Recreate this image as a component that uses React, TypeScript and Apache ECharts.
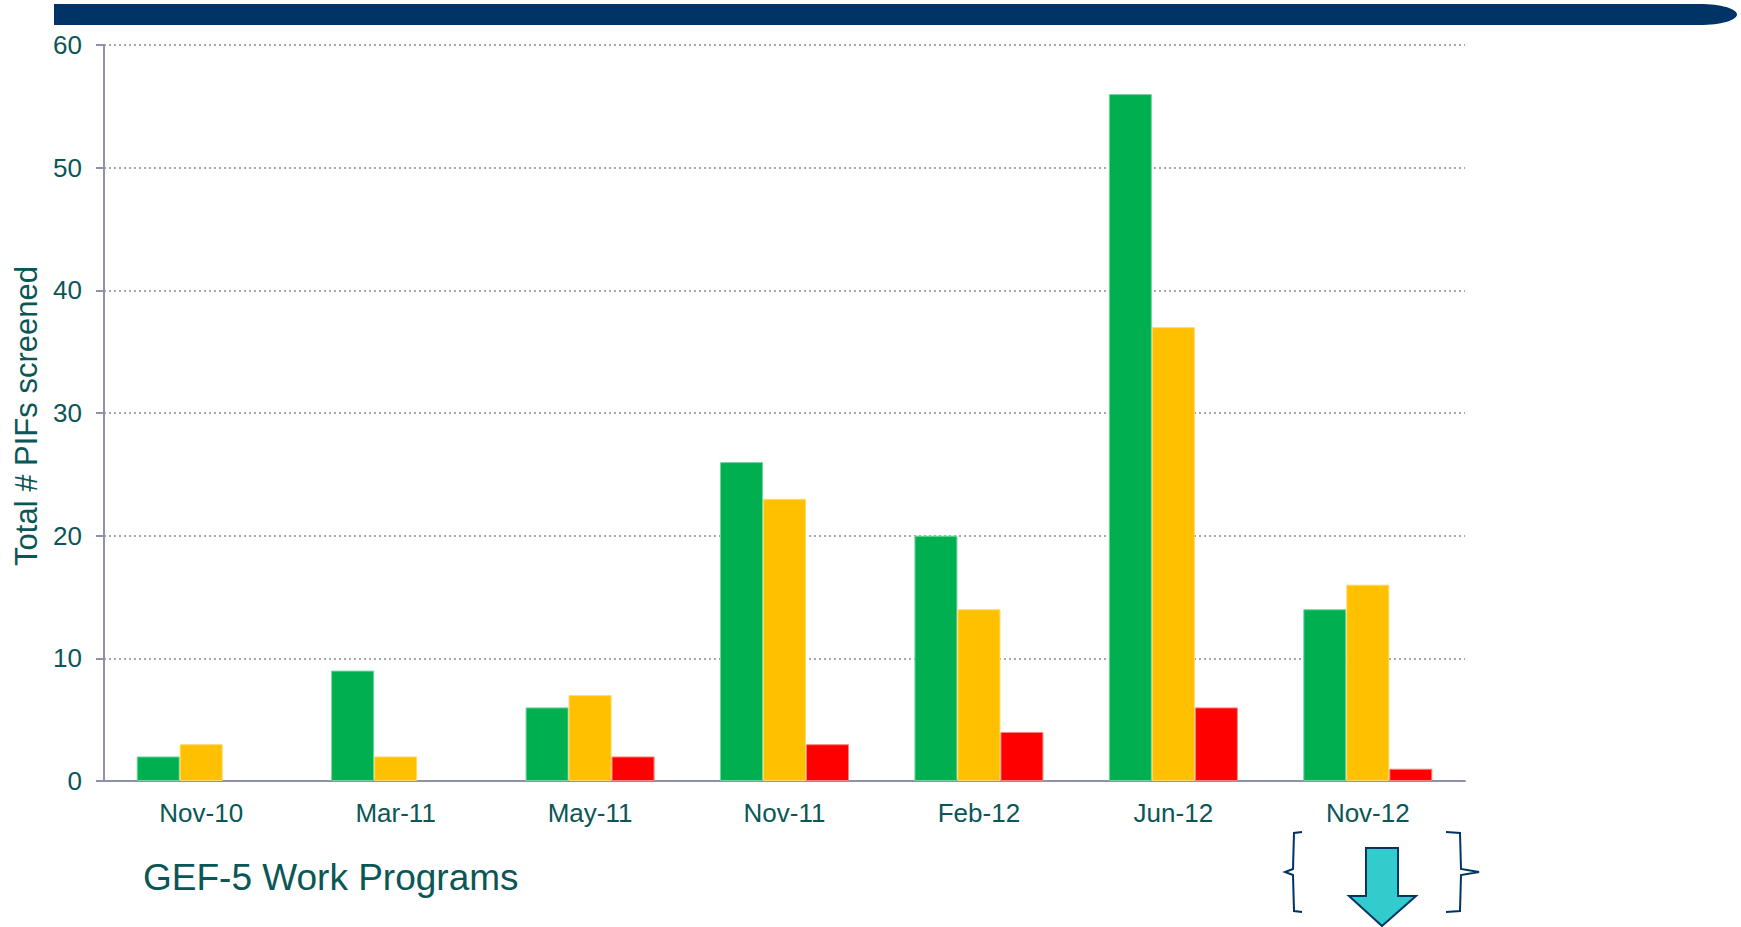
import React, { useEffect, useRef } from "react";
import * as echarts from "echarts";

const categories = ["Nov-10", "Mar-11", "May-11", "Nov-11", "Feb-12", "Jun-12", "Nov-12"];
const greenValues = [2, 9, 6, 26, 20, 56, 14];
const yellowValues = [3, 2, 7, 23, 14, 37, 16];
const redValues = [0, 0, 2, 3, 4, 6, 1];
const yTicks = { min: 0, max: 60, interval: 10 };

const TEXT = "#0b5656";
const AXIS = "#8e92a6";
const FONT = "'Liberation Sans', Arial, sans-serif";

export default function App() {
  const ref = useRef<HTMLDivElement>(null);
  useEffect(() => {
    document.body.style.margin = "0";
    const chart = echarts.init(ref.current!, null, { renderer: "svg" });
    const barBase = {
      type: "bar" as const,
      barWidth: 43,
      barGap: "0%",
    };
    chart.setOption({
      animation: false,
      backgroundColor: "#ffffff",
      textStyle: { fontFamily: FONT },
      grid: { left: 104, right: 276, top: 45, bottom: 146, containLabel: false },
      xAxis: {
        type: "category",
        data: categories,
        axisLine: { show: true, lineStyle: { color: AXIS, width: 2 } },
        axisTick: { show: false },
        axisLabel: { color: TEXT, fontSize: 26, fontFamily: FONT, margin: 19 },
        splitLine: { show: false },
      },
      yAxis: {
        type: "value",
        min: yTicks.min,
        max: yTicks.max,
        interval: yTicks.interval,
        axisLine: { show: true, lineStyle: { color: AXIS, width: 2 } },
        axisTick: { show: true, length: 8, lineStyle: { color: AXIS, width: 2 } },
        axisLabel: { color: TEXT, fontSize: 26, fontFamily: FONT, margin: 22 },
        splitLine: { show: true, lineStyle: { color: "#8a8a8a", width: 1.5, type: [2, 3] } },
      },
      series: [
        { ...barBase, name: "Green", data: greenValues, itemStyle: { color: "#00b050", borderColor: "#6fd69c", borderWidth: 1 } },
        { ...barBase, name: "Yellow", data: yellowValues, itemStyle: { color: "#ffc000", borderColor: "#ffd866", borderWidth: 1 } },
        { ...barBase, name: "Red", data: redValues.map((v) => (v === 0 ? null : v)), itemStyle: { color: "#ff0000", borderColor: "#ff8080", borderWidth: 1 } },
      ],
      graphic: [
        { type: "rect", shape: { x: 54, y: 4, width: 1650, height: 21 }, style: { fill: "#003366" }, silent: true },
        { type: "ellipse", shape: { cx: 1700, cy: 14.5, rx: 37, ry: 10.5 }, style: { fill: "#003366" }, silent: true },
        {
          type: "text",
          x: 26,
          y: 416,
          rotation: Math.PI / 2,
          style: {
            text: "Total # PIFs screened",
            fill: TEXT,
            fontSize: 31,
            fontFamily: FONT,
            textAlign: "center",
            textVerticalAlign: "middle",
          },
        },
        {
          type: "text",
          x: 143,
          y: 877,
          style: {
            text: "GEF-5 Work Programs",
            fill: TEXT,
            fontSize: 37,
            fontFamily: FONT,
            textAlign: "left",
            textVerticalAlign: "middle",
          },
        },
        {
          type: "polyline",
          shape: { points: [[1302, 832], [1294, 833], [1293, 869], [1285, 872], [1293, 875], [1294, 911], [1302, 912]] },
          style: { stroke: "#003366", lineWidth: 2, fill: null },
        },
        {
          type: "polyline",
          shape: { points: [[1446, 832], [1460, 833], [1461, 869], [1479, 872], [1461, 875], [1460, 911], [1446, 912]] },
          style: { stroke: "#003366", lineWidth: 2, fill: null },
        },
        {
          type: "polygon",
          shape: { points: [[1366, 848], [1398, 848], [1398, 896], [1416, 896], [1382, 926], [1349, 896], [1366, 896]] },
          style: { fill: "#33cccc", stroke: "#003366", lineWidth: 2 },
        },
      ],
    });
    return () => chart.dispose();
  }, []);
  return <div ref={ref} style={{ width: 1741, height: 927 }} />;
}
